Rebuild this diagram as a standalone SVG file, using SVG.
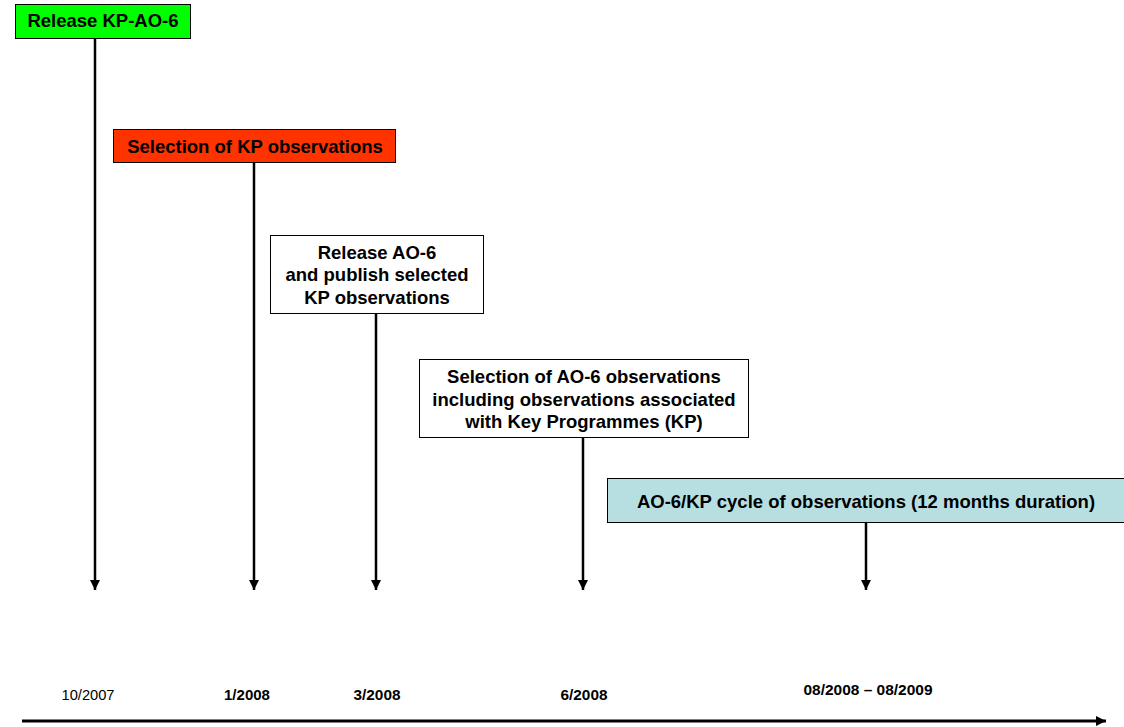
<svg xmlns="http://www.w3.org/2000/svg" width="1124" height="727" viewBox="0 0 1124 727">
<style>
.box{stroke:#000;stroke-width:1}
.t{font-family:"Liberation Sans",Arial,sans-serif;font-weight:bold;font-size:18.5px;text-anchor:middle;fill:#000}
.d{font-family:"Liberation Sans",Arial,sans-serif;font-size:15.5px;text-anchor:middle;fill:#000}
.b{font-weight:bold}
.c{stroke:#000;stroke-width:2.5;fill:none}
</style>
<defs>
<marker id="ah" markerWidth="10" markerHeight="10" refX="10" refY="5" orient="auto" markerUnits="userSpaceOnUse" viewBox="0 0 10 10">
<path d="M0,0 L10,5 L0,10 z" fill="#000"/>
</marker>
</defs>
<rect width="1124" height="727" fill="#fff"/>
<g id="connectors">
<line class="c" x1="95" y1="39" x2="95" y2="590" marker-end="url(#ah)"/>
<line class="c" x1="254" y1="163" x2="254" y2="590" marker-end="url(#ah)"/>
<line class="c" x1="376" y1="314" x2="376" y2="590" marker-end="url(#ah)"/>
<line class="c" x1="583" y1="438" x2="583" y2="590" marker-end="url(#ah)"/>
<line class="c" x1="866" y1="523" x2="866" y2="590" marker-end="url(#ah)"/>
<line class="c" style="stroke-width:3" x1="22" y1="721" x2="1106" y2="721" marker-end="url(#ah)"/>
</g>
<g id="n1">
<rect class="box" x="15.5" y="4.5" width="175" height="34" fill="#00ff00"/>
<text class="t" x="103" y="27">Release KP-AO-6</text>
</g>
<g id="n2">
<rect class="box" x="113.5" y="129.5" width="282" height="33" fill="#ff3300"/>
<text class="t" x="255" y="153">Selection of KP observations</text>
</g>
<g id="n3">
<rect class="box" x="270.5" y="235.5" width="213" height="78" fill="#fff"/>
<text class="t" x="377" y="259">Release AO-6</text>
<text class="t" x="377" y="281">and publish selected</text>
<text class="t" x="377" y="304">KP observations</text>
</g>
<g id="n4">
<rect class="box" x="419.5" y="359.5" width="329" height="78" fill="#fff"/>
<text class="t" x="584" y="383">Selection of AO-6 observations</text>
<text class="t" x="584" y="406">including observations associated</text>
<text class="t" x="584" y="428">with Key Programmes (KP)</text>
</g>
<g id="n5">
<rect class="box" x="607.5" y="478.5" width="530" height="44" fill="#b7dfe1"/>
<text class="t" x="866" y="508">AO-6/KP cycle of observations (12 months duration)</text>
</g>
<g id="dates">
<text class="d" x="88" y="700" textLength="53" lengthAdjust="spacingAndGlyphs">10/2007</text>
<text class="d b" x="247" y="700" textLength="46" lengthAdjust="spacingAndGlyphs">1/2008</text>
<text class="d b" x="377" y="700" textLength="47" lengthAdjust="spacingAndGlyphs">3/2008</text>
<text class="d b" x="584" y="700" textLength="47" lengthAdjust="spacingAndGlyphs">6/2008</text>
<text class="d b" x="868" y="695" textLength="129" lengthAdjust="spacingAndGlyphs">08/2008 – 08/2009</text>
</g>
</svg>
